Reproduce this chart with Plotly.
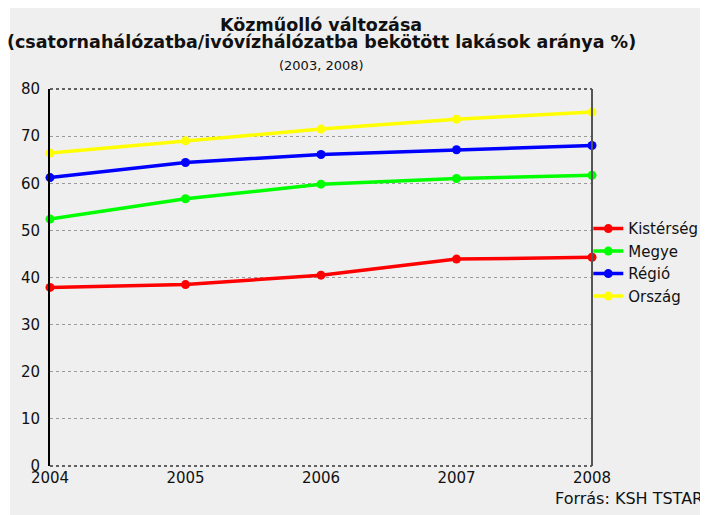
import plotly.graph_objects as go

years = [2004, 2005, 2006, 2007, 2008]
series_names = ["Kistérség", "Megye", "Régió", "Ország"]
kisterseg = [37.9, 38.5, 40.5, 43.9, 44.3]
megye = [52.4, 56.7, 59.8, 61.0, 61.7]
regio = [61.2, 64.4, 66.1, 67.1, 68.0]
orszag = [66.4, 69.0, 71.5, 73.6, 75.1]
colors = ["#FF0000", "#00FF00", "#0000FF", "#FFFF00"]
y_ticks = [0, 10, 20, 30, 40, 50, 60, 70, 80]

FONT = "DejaVu Sans, Verdana, sans-serif"
BG = "#EFEFEF"
TXT = "#111111"

fig = go.Figure()
for name, vals, col in zip(series_names, [kisterseg, megye, regio, orszag], colors):
    fig.add_trace(go.Scatter(
        x=years, y=vals, name=name, mode="lines+markers",
        line=dict(color=col, width=3.5),
        marker=dict(color=col, size=9),
        cliponaxis=False,
    ))

# page body has an 8px margin, so the figure is 8px smaller and margins shifted
fig.update_layout(
    width=700, height=507,
    margin=dict(l=42, r=116, t=81, b=49, autoexpand=False),
    paper_bgcolor="white",
    plot_bgcolor=BG,
    font=dict(family=FONT, size=15, color=TXT),
    showlegend=True,
    legend=dict(x=0.829, xanchor="left", y=0.597, yanchor="top",
                xref="container", yref="container",
                bgcolor="rgba(0,0,0,0)", font=dict(size=15, color=TXT),
                itemwidth=30, tracegroupgap=0),
    xaxis=dict(range=[2004, 2008], tickvals=years, ticktext=[str(y) for y in years],
               showgrid=False, zeroline=False, showline=False, ticks="",
               tickfont=dict(size=15), ticklabelstandoff=1, automargin=False),
    yaxis=dict(range=[0, 80], tickvals=y_ticks, showgrid=True, gridcolor="#999999",
               griddash="dot", gridwidth=1, zeroline=False,
               showline=True, linecolor="black", linewidth=2, ticks="",
               tickfont=dict(size=15), ticklabelstandoff=5, automargin=False),
    shapes=[
        dict(type="rect", xref="paper", yref="paper", x0=-0.0738, x1=1.25, y0=-0.14, y1=1.3,
             fillcolor=BG, line=dict(width=0), layer="below"),
        dict(type="line", xref="paper", yref="paper", x0=0, x1=1, y0=1, y1=1,
             line=dict(color="#333333", width=1.5, dash="dot")),
        dict(type="line", xref="paper", yref="paper", x0=0, x1=1, y0=0, y1=0,
             line=dict(color="#333333", width=1.5, dash="dot")),
        dict(type="line", xref="paper", yref="paper", x0=1, x1=1, y0=0, y1=1,
             line=dict(color="#555555", width=2)),
    ],
    annotations=[
        dict(text="<b>Közműolló változása</b>", xref="paper", yref="paper",
             x=0.5, y=1.0, yshift=64, xanchor="center", yanchor="middle",
             showarrow=False, font=dict(size=17.5, color=TXT)),
        dict(text="<b>(csatornahálózatba/ivóvízhálózatba bekötött lakások aránya %)</b>",
             xref="paper", yref="paper", x=0.5, y=1.0, yshift=47,
             xanchor="center", yanchor="middle", showarrow=False,
             font=dict(size=17.5, color=TXT)),
        dict(text="(2003, 2008)", xref="paper", yref="paper", x=0.5, y=1.0, yshift=24,
             xanchor="center", yanchor="middle", showarrow=False,
             font=dict(size=13, color=TXT)),
        dict(text="Forrás: KSH TSTAR", xref="paper", yref="paper", x=1.2085, y=0,
             xanchor="right", yanchor="middle", yshift=-32, showarrow=False,
             font=dict(size=16, color=TXT)),
    ],
)

fig.write_html("out.html")
